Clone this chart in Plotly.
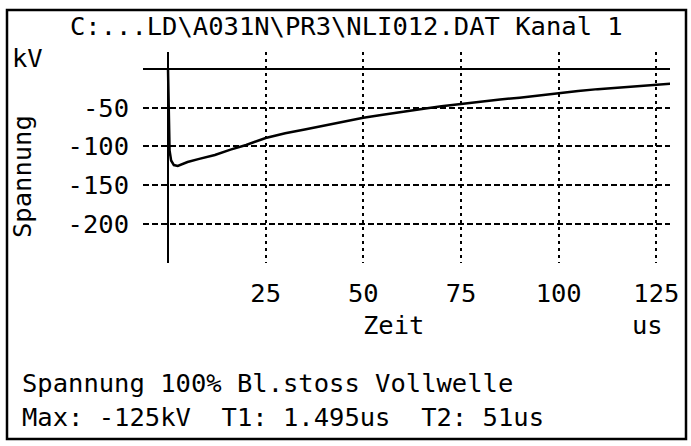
import plotly.graph_objects as go

# ---- data ----
time_us = [0, 0.2, 0.4, 0.8, 1.5, 2.5, 3.5, 5, 8, 12, 16, 20, 25, 30, 35, 40, 45, 50,
           55, 60, 65, 70, 75, 80, 85, 90, 95, 100, 105, 110, 115, 120, 125, 129]
voltage_kv = [0, -60, -105, -118, -124, -125, -123, -120, -116, -111, -104, -98, -89,
              -83, -78, -73, -68, -63, -59, -55, -51.5, -48, -45, -42, -39.5, -37, -34,
              -31, -28.5, -26, -24, -22, -20, -19]
x_ticks = [25, 50, 75, 100, 125]
x_tick_labels = ["25", "50", "75", "100", "125"]
y_ticks = [-200, -150, -100, -50]
y_tick_labels = ["-200", "-150", "-100", "-50"]

title_text = "C:...LD\\A031N\\PR3\\NLI012.DAT Kanal 1"
info_line1 = "Spannung 100% Bl.stoss Vollwelle"
info_line2 = "Max: -125kV  T1: 1.495us  T2: 51us"

# ---- layout geometry (pixels) ----
W, H = 691, 446
L, R, T, B = 143, 670, 52, 263
FONT = "DejaVu Sans Mono"
FS = 25.5


def px(x):
    return (x - L) / (R - L)


def py(y):
    return (B - y) / (B - T)


fig = go.Figure()
fig.add_trace(go.Scatter(x=time_us, y=voltage_kv, mode="lines",
                         line=dict(color="black", width=2.5), showlegend=False,
                         hoverinfo="skip"))

fig.update_layout(
    width=W, height=H,
    margin=dict(l=L, r=W - R, t=T, b=H - B),
    paper_bgcolor="white", plot_bgcolor="white",
    font=dict(family=FONT, size=FS, color="black"),
    showlegend=False,
)
fig.update_xaxes(
    range=[-6.4, 128.5], tickvals=x_ticks, ticktext=x_tick_labels,
    showgrid=True, gridcolor="black", gridwidth=2, griddash="3px,4px",
    zeroline=True, zerolinecolor="black", zerolinewidth=2,
    showline=False, ticks="", ticklabelstandoff=12,
    tickfont=dict(family=FONT, size=FS, color="black"),
)
fig.update_yaxes(
    range=[-250.3, 21.9], tickvals=y_ticks, ticktext=y_tick_labels,
    showgrid=True, gridcolor="black", gridwidth=2, griddash="6px,3px",
    zeroline=True, zerolinecolor="black", zerolinewidth=2,
    showline=False, ticks="", ticklabelstandoff=13,
    tickfont=dict(family=FONT, size=FS, color="black"),
)

ann = [
    dict(text=title_text, x=px(346), y=py(26), xanchor="center", yanchor="middle"),
    dict(text="kV", x=px(28), y=py(58), xanchor="center", yanchor="middle"),
    dict(text="Spannung", x=px(22), y=py(177), xanchor="center", yanchor="middle",
         textangle=-90),
    dict(text="Zeit", x=px(393), y=py(325), xanchor="center", yanchor="middle"),
    dict(text="us", x=px(647), y=py(325), xanchor="center", yanchor="middle"),
    dict(text=info_line1, x=px(20), y=py(383), xanchor="left", yanchor="middle"),
    dict(text=info_line2, x=px(20), y=py(417), xanchor="left", yanchor="middle"),
]
for a in ann:
    fig.add_annotation(xref="paper", yref="paper", showarrow=False,
                       font=dict(family=FONT, size=FS, color="black"), **a)

# outer frame
fig.add_shape(type="rect", xref="paper", yref="paper",
              x0=px(7), x1=px(686), y0=py(439), y1=py(10),
              line=dict(color="black", width=2.5))

fig.write_html("out.html",
               config={"displayModeBar": False},
               post_script="document.body.style.margin='0px';"
                           "document.body.style.overflow='hidden';")
